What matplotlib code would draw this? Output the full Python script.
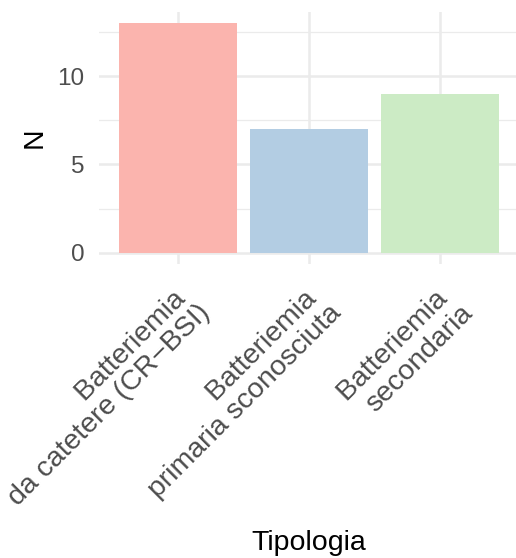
import matplotlib
matplotlib.use("Agg")
import matplotlib.pyplot as plt

categories = ["Batteriemia \nda catetere (CR−BSI)",
              "Batteriemia \nprimaria sconosciuta",
              "Batteriemia \nsecondaria"]
counts = [13, 7, 9]
colors = ["#FBB4AE", "#B3CDE3", "#CCEBC5"]
y_major = [0, 5, 10]
y_minor = [2.5, 7.5, 12.5]
x_title = "Tipologia"
y_title = "N"

plt.rcParams['font.family'] = ['Liberation Sans', 'DejaVu Sans']

W, H = 516, 558
fig = plt.figure(figsize=(W / 100, H / 100), dpi=100)
left, right, top, bottom = 99.4, 519.0, 11.5, 264.2
ax = fig.add_axes([left / W, 1 - bottom / H, (right - left) / W, (bottom - top) / H])
ax.set_facecolor("none")

xpos = list(range(len(categories)))
ax.bar(xpos, counts, width=0.9, color=colors, zorder=3)

ymax = max(counts)
ax.set_xlim(-0.6, len(categories) - 0.4)
ax.set_ylim(-0.05 * ymax, 1.05 * ymax)

for s in ax.spines.values():
    s.set_visible(False)

ax.set_yticks(y_major)
ax.set_yticks(y_minor, minor=True)
ax.set_xticks(xpos)
ax.grid(which="major", color="#EBEBEB", linewidth=1.8, zorder=0)
ax.grid(which="minor", axis="y", color="#EBEBEB", linewidth=0.9, zorder=0)
ax.set_axisbelow(True)

ax.tick_params(axis="both", which="both", length=0)
ax.tick_params(axis="y", labelsize=17.5, labelcolor="#4D4D4D", pad=10.8)
ax.tick_params(axis="x", pad=12, labelcolor="#4D4D4D")
ax.set_xticklabels(categories, rotation=45, ha="right", va="top",
                   rotation_mode="anchor", multialignment="right",
                   fontsize=20.5, linespacing=1.05)

ax.set_ylabel(y_title, fontsize=20.5, color="black")
ax.yaxis.label.set_va("center")
ax.yaxis.set_label_coords((34.5 - left) / (right - left), 0.5)

ax.set_xlabel(x_title, fontsize=20.5, color="black")
ax.xaxis.label.set_va("baseline")
ax.xaxis.set_label_coords(0.5, (bottom - 550) / (bottom - top))

fig.savefig("out.png", dpi=100)
